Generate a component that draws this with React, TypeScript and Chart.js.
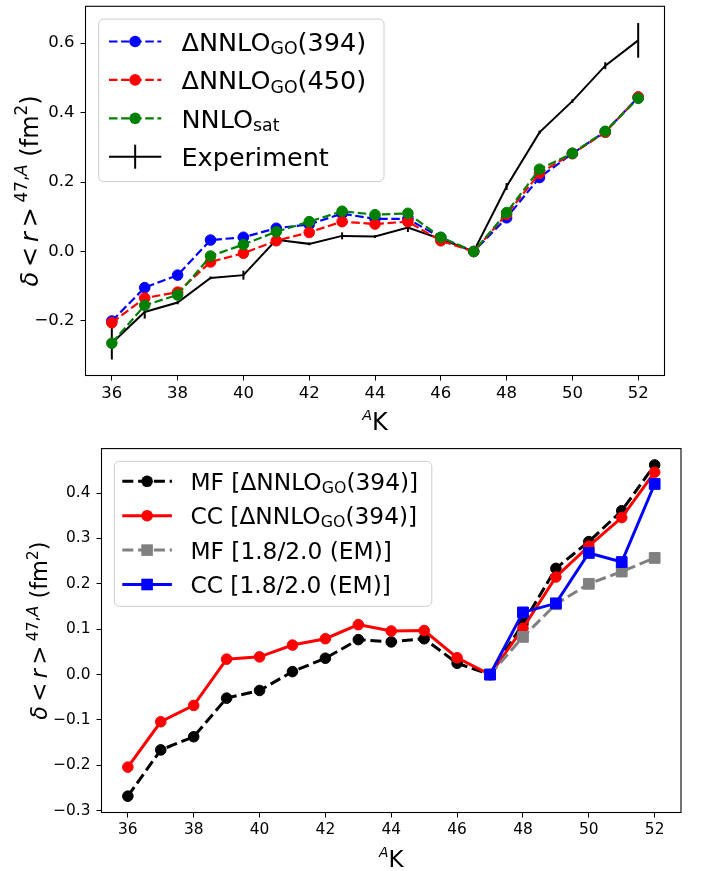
import React, { useEffect, useRef } from 'react';
import { Chart, registerables } from 'chart.js';

Chart.register(...registerables);

const FONT = '"DejaVu Sans", "Noto Sans", sans-serif';

// ---------------- data ----------------
const massNumbers = [36, 37, 38, 39, 40, 41, 42, 43, 44, 45, 46, 47, 48, 49, 50, 51, 52];
const xTickValues = [36, 38, 40, 42, 44, 46, 48, 50, 52];
const topYTickValues = [-0.2, 0, 0.2, 0.4, 0.6];
const bottomYTickValues = [-0.3, -0.2, -0.1, 0, 0.1, 0.2, 0.3, 0.4];

// top panel
const dnnloGo394 = [-0.200, -0.104, -0.068, 0.033, 0.041, 0.067, 0.078, 0.109, 0.094, 0.094, 0.040, 0, 0.097, 0.213, 0.282, 0.345, 0.444];
const dnnloGo450 = [-0.205, -0.134, -0.117, -0.030, -0.005, 0.031, 0.055, 0.086, 0.079, 0.086, 0.031, 0, 0.107, 0.225, 0.282, 0.343, 0.445];
const nnloSat = [-0.264, -0.155, -0.125, -0.013, 0.020, 0.057, 0.086, 0.116, 0.106, 0.110, 0.041, 0, 0.112, 0.237, 0.283, 0.346, 0.441];
const experiment = [-0.264, -0.174, -0.147, -0.076, -0.068, 0.034, 0.022, 0.045, 0.043, 0.069, 0.036, 0, 0.187, 0.343, 0.433, 0.535, 0.608];
const experimentErr = [0.047, 0.019, 0.005, 0.004, 0.013, 0.005, 0.004, 0.010, 0.004, 0.013, 0.004, 0.002, 0.010, 0.005, 0.005, 0.010, 0.050];

// bottom panel
const mfGo394 = [-0.268, -0.166, -0.137, -0.052, -0.035, 0.0065, 0.036, 0.077, 0.072, 0.079, 0.025, 0, 0.112, 0.234, 0.293, 0.361, 0.462];
const ccGo394 = [-0.204, -0.104, -0.068, 0.034, 0.039, 0.065, 0.079, 0.110, 0.096, 0.097, 0.037, 0, 0.102, 0.215, 0.283, 0.346, 0.446];
const emMassNumbers = [47, 48, 49, 50, 51, 52];
const mfEm = [0, 0.083, 0.155, 0.200, 0.227, 0.257];
const ccEm = [0, 0.137, 0.157, 0.268, 0.248, 0.420];

// ---------------- rich text helpers ----------------
type Seg = { t: string; it?: boolean; sc?: number; dy?: number };

function segFont(size: number, s: Seg) {
  return `${s.it ? 'italic ' : ''}${size * (s.sc ?? 1)}px ${FONT}`;
}
function richWidth(ctx: CanvasRenderingContext2D, segs: Seg[], size: number) {
  let w = 0;
  for (const s of segs) {
    ctx.font = segFont(size, s);
    w += ctx.measureText(s.t).width;
  }
  return w;
}
function drawRich(ctx: CanvasRenderingContext2D, segs: Seg[], x: number, y: number, size: number, align: 'left' | 'center') {
  let cx = align === 'center' ? x - richWidth(ctx, segs, size) / 2 : x;
  ctx.textAlign = 'left';
  ctx.textBaseline = 'alphabetic';
  ctx.fillStyle = '#000';
  for (const s of segs) {
    ctx.font = segFont(size, s);
    ctx.fillText(s.t, cx, y + (s.dy ?? 0) * size);
    cx += ctx.measureText(s.t).width;
  }
}

const goLabel = (n: string): Seg[] => [{ t: 'ΔNNLO' }, { t: 'GO', sc: 0.68, dy: 0.14 }, { t: `(${n})` }];
const yLabelSegs: Seg[] = [
  { t: 'δ', it: true },
  { t: '\u2009<\u2009' },
  { t: 'r', it: true },
  { t: '\u2009>\u2009' },
  { t: '47,', sc: 0.7, dy: -0.42 },
  { t: 'A', it: true, sc: 0.7, dy: -0.42 },
  { t: ' (fm' },
  { t: '2', sc: 0.7, dy: -0.42 },
  { t: ')' },
];
const xLabelSegs: Seg[] = [{ t: 'A', it: true, sc: 0.6, dy: -0.43 }, { t: 'K' }];

type LegendItem = { segs: Seg[]; color: string; dash: number[]; lw: number; marker: 'circle' | 'square' | 'errorbar' };
type PanelSpec = {
  id: string;
  legend: {
    dx: number; dy: number; w: number; h: number; firstRow: number; rowGap: number;
    hx0: number; hx1: number; tx: number; font: number; markerR: number; items: LegendItem[];
  };
  xLabelBaseline: number;
  xLabelFont: number;
  yLabelX: number;
  yLabelFont: number;
  errorBars?: { datasetIndex: number; values: number[]; errors: number[] };
};

function makePlugin(spec: PanelSpec) {
  return {
    id: 'panel-' + spec.id,
    afterDatasetDraw(chart: any, args: any) {
      const eb = spec.errorBars;
      if (!eb || args.index !== eb.datasetIndex) return;
      const ctx: CanvasRenderingContext2D = chart.ctx;
      const xs = chart.scales.x;
      const ys = chart.scales.y;
      ctx.save();
      ctx.strokeStyle = '#000';
      ctx.lineWidth = 2;
      ctx.setLineDash([]);
      massNumbers.forEach((a, i) => {
        const px = xs.getPixelForValue(a);
        ctx.beginPath();
        ctx.moveTo(px, ys.getPixelForValue(eb.values[i] - eb.errors[i]));
        ctx.lineTo(px, ys.getPixelForValue(eb.values[i] + eb.errors[i]));
        ctx.stroke();
      });
      ctx.restore();
    },
    afterDatasetsDraw(chart: any) {
      const ctx: CanvasRenderingContext2D = chart.ctx;
      const a = chart.chartArea;
      ctx.save();
      ctx.strokeStyle = '#000';
      ctx.lineWidth = 1.1;
      ctx.setLineDash([]);
      ctx.strokeRect(a.left, a.top, a.right - a.left, a.bottom - a.top);
      ctx.restore();
    },
    afterDraw(chart: any) {
      const ctx: CanvasRenderingContext2D = chart.ctx;
      const a = chart.chartArea;
      const L = spec.legend;
      ctx.save();
      const bx = a.left + L.dx;
      const by = a.top + L.dy;
      ctx.beginPath();
      (ctx as any).roundRect(bx, by, L.w, L.h, 5);
      ctx.fillStyle = 'rgba(255,255,255,0.8)';
      ctx.fill();
      ctx.strokeStyle = '#cccccc';
      ctx.lineWidth = 1;
      ctx.stroke();
      L.items.forEach((it, i) => {
        const cy = by + L.firstRow + i * L.rowGap;
        const x0 = bx + L.hx0;
        const x1 = bx + L.hx1;
        const xm = (x0 + x1) / 2;
        ctx.strokeStyle = it.color;
        ctx.fillStyle = it.color;
        ctx.lineWidth = it.lw;
        ctx.setLineDash(it.dash);
        ctx.beginPath();
        ctx.moveTo(x0, cy);
        ctx.lineTo(x1, cy);
        ctx.stroke();
        ctx.setLineDash([]);
        if (it.marker === 'circle') {
          ctx.beginPath();
          ctx.arc(xm, cy, L.markerR, 0, Math.PI * 2);
          ctx.fill();
        } else if (it.marker === 'square') {
          ctx.fillRect(xm - L.markerR, cy - L.markerR, 2 * L.markerR, 2 * L.markerR);
        } else {
          ctx.beginPath();
          ctx.moveTo(xm, cy - 12);
          ctx.lineTo(xm, cy + 12);
          ctx.stroke();
        }
        drawRich(ctx, it.segs, bx + L.tx, cy + 0.729 * L.font / 2, L.font, 'left');
      });
      drawRich(ctx, xLabelSegs, (a.left + a.right) / 2, spec.xLabelBaseline, spec.xLabelFont, 'center');
      ctx.translate(spec.yLabelX, (a.top + a.bottom) / 2);
      ctx.rotate(-Math.PI / 2);
      drawRich(ctx, yLabelSegs, 0, 0, spec.yLabelFont, 'center');
      ctx.restore();
    },
  };
}

const fmtTick = (v: number) => {
  const s = Math.abs(v).toFixed(1);
  return v < -1e-9 ? '\u2212' + s : s;
};

function makeScales(o: {
  yMin: number; yMax: number; yTicks: number[]; yWidth: number; xHeight: number; tickFont: number;
}) {
  return {
    x: {
      type: 'linear' as const,
      min: 35.2,
      max: 52.8,
      afterBuildTicks: (s: any) => { s.ticks = xTickValues.map((v) => ({ value: v })); },
      afterFit: (s: any) => { s.height = o.xHeight; s.paddingLeft = 0; s.paddingRight = 0; s.paddingTop = 0; s.paddingBottom = 0; },
      ticks: { color: '#000', font: { family: FONT, size: o.tickFont }, padding: 3, maxRotation: 0, autoSkip: false, callback: (v: any) => String(v) },
      grid: { display: true, drawOnChartArea: false, drawTicks: true, tickLength: 5, tickColor: '#000', tickWidth: 1 },
      border: { display: false },
    },
    y: {
      type: 'linear' as const,
      min: o.yMin,
      max: o.yMax,
      afterBuildTicks: (s: any) => { s.ticks = o.yTicks.map((v) => ({ value: v })); },
      afterFit: (s: any) => { s.width = o.yWidth; s.paddingLeft = 0; s.paddingRight = 0; s.paddingTop = 0; s.paddingBottom = 0; },
      ticks: { color: '#000', font: { family: FONT, size: o.tickFont }, padding: 6, autoSkip: false, callback: (v: any) => fmtTick(Number(v)) },
      grid: { display: true, drawOnChartArea: false, drawTicks: true, tickLength: 5, tickColor: '#000', tickWidth: 1 },
      border: { display: false },
    },
  };
}

const pts = (xs: number[], ys: number[]) => xs.map((x, i) => ({ x, y: ys[i] }));

function lineDs(label: string, xs: number[], ys: number[], color: string, o: any) {
  return {
    label,
    data: pts(xs, ys),
    borderColor: color,
    backgroundColor: color,
    pointBackgroundColor: color,
    pointBorderColor: color,
    pointBorderWidth: 1,
    tension: 0,
    fill: false,
    ...o,
  };
}

function TopChart() {
  const ref = useRef<HTMLCanvasElement | null>(null);
  useEffect(() => {
    if (!ref.current) return;
    const dashTop = [8.5, 3.6];
    const spec: PanelSpec = {
      id: 'top',
      legend: {
        dx: 13.2, dy: 12.8, w: 285.3, h: 162.4, firstRow: 22.4, rowGap: 38.4,
        hx0: 10.3, hx1: 62.6, tx: 82.8, font: 25.5, markerR: 5.8,
        items: [
          { segs: goLabel('394'), color: '#0000ff', dash: dashTop, lw: 2.2, marker: 'circle' },
          { segs: goLabel('450'), color: '#ff0000', dash: dashTop, lw: 2.2, marker: 'circle' },
          { segs: [{ t: 'NNLO' }, { t: 'sat', sc: 0.68, dy: 0.14 }], color: '#008000', dash: dashTop, lw: 2.2, marker: 'circle' },
          { segs: [{ t: 'Experiment' }], color: '#000000', dash: [], lw: 2, marker: 'errorbar' },
        ],
      },
      xLabelBaseline: 430,
      xLabelFont: 24,
      yLabelX: 37.5,
      yLabelFont: 24,
      errorBars: { datasetIndex: 3, values: experiment, errors: experimentErr },
    };
    const chart = new Chart(ref.current, {
      type: 'line',
      data: {
        datasets: [
          lineDs('ΔNNLO_GO(394)', massNumbers, dnnloGo394, '#0000ff', { borderWidth: 2.2, borderDash: dashTop, pointRadius: 5.3, order: 3 }),
          lineDs('ΔNNLO_GO(450)', massNumbers, dnnloGo450, '#ff0000', { borderWidth: 2.2, borderDash: dashTop, pointRadius: 5.3, order: 2 }),
          lineDs('NNLO_sat', massNumbers, nnloSat, '#008000', { borderWidth: 2.2, borderDash: dashTop, pointRadius: 5.3, order: 1 }),
          lineDs('Experiment', massNumbers, experiment, '#000000', { borderWidth: 2, pointRadius: 0, order: 4 }),
        ],
      },
      options: {
        animation: false,
        responsive: false,
        events: [],
        layout: { padding: { left: 0, right: 42.5, top: 0.5, bottom: 0 } },
        plugins: { legend: { display: false }, tooltip: { enabled: false } },
        scales: makeScales({ yMin: -0.357, yMax: 0.706, yTicks: topYTickValues, yWidth: 85.5, xHeight: 64.5, tickFont: 16.5 }) as any,
      },
      plugins: [makePlugin(spec)],
    });
    return () => chart.destroy();
  }, []);
  return <canvas ref={ref} width={707} height={440} style={{ position: 'absolute', left: 0, top: 0, width: 707, height: 440 }} />;
}

function BottomChart() {
  const ref = useRef<HTMLCanvasElement | null>(null);
  useEffect(() => {
    if (!ref.current) return;
    const dashB = [11, 4.8];
    const spec: PanelSpec = {
      id: 'bottom',
      legend: {
        dx: 12.9, dy: 12.7, w: 317.4, h: 145, firstRow: 20, rowGap: 34.4,
        hx0: 7.9, hx1: 57.5, tx: 76, font: 23.3, markerR: 5.8,
        items: [
          { segs: [{ t: 'MF [' }, ...goLabel('394'), { t: ']' }], color: '#000000', dash: dashB, lw: 3, marker: 'circle' },
          { segs: [{ t: 'CC [' }, ...goLabel('394'), { t: ']' }], color: '#ff0000', dash: [], lw: 3, marker: 'circle' },
          { segs: [{ t: 'MF [1.8/2.0 (EM)]' }], color: '#808080', dash: dashB, lw: 3, marker: 'square' },
          { segs: [{ t: 'CC [1.8/2.0 (EM)]' }], color: '#0000ff', dash: [], lw: 3, marker: 'square' },
        ],
      },
      xLabelBaseline: 426.7,
      xLabelFont: 23,
      yLabelX: 47,
      yLabelFont: 22.4,
    };
    const chart = new Chart(ref.current, {
      type: 'line',
      data: {
        datasets: [
          lineDs('MF [ΔNNLO_GO(394)]', massNumbers, mfGo394, '#000000', { borderWidth: 3, borderDash: dashB, pointRadius: 5.3, order: 4 }),
          lineDs('CC [ΔNNLO_GO(394)]', massNumbers, ccGo394, '#ff0000', { borderWidth: 3, pointRadius: 5.3, order: 3 }),
          lineDs('MF [1.8/2.0 (EM)]', emMassNumbers, mfEm, '#808080', { borderWidth: 3, borderDash: dashB, pointRadius: 7.6, pointStyle: 'rect', order: 2 }),
          lineDs('CC [1.8/2.0 (EM)]', emMassNumbers, ccEm, '#0000ff', { borderWidth: 3, pointRadius: 7.6, pointStyle: 'rect', order: 1 }),
        ],
      },
      options: {
        animation: false,
        responsive: false,
        events: [],
        layout: { padding: { left: 0, right: 26, top: 4, bottom: 0 } },
        plugins: { legend: { display: false }, tooltip: { enabled: false } },
        scales: makeScales({ yMin: -0.304, yMax: 0.498, yTicks: bottomYTickValues, yWidth: 101.5, xHeight: 58.5, tickFont: 15.4 }) as any,
      },
      plugins: [makePlugin(spec)],
    });
    return () => chart.destroy();
  }, []);
  return <canvas ref={ref} width={707} height={431} style={{ position: 'absolute', left: 0, top: 440, width: 707, height: 431 }} />;
}

export default function App() {
  return (
    <div style={{ position: 'absolute', left: 0, top: 0, width: 707, height: 871, background: '#fff', overflow: 'hidden' }}>
      <TopChart />
      <BottomChart />
    </div>
  );
}
